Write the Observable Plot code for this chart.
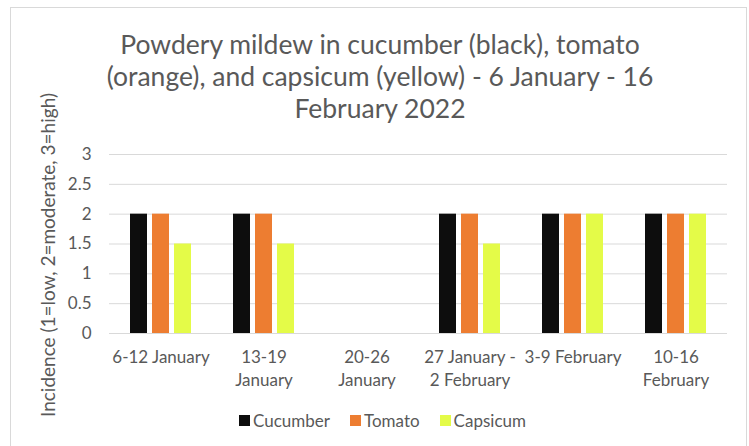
<!DOCTYPE html>
<html><head><meta charset="utf-8">
<script src="https://cdn.jsdelivr.net/npm/d3@7"></script>
<script src="https://cdn.jsdelivr.net/npm/@observablehq/plot@0.6"></script>
<style>
body{margin:0;background:#fff;}
#chart{position:relative;width:749px;height:446px;overflow:hidden;font-family:Lato,sans-serif;color:#595959;background:#fff;}
#frame{position:absolute;left:10px;top:7px;width:737px;height:470px;border:1px solid #d9d9d9;box-sizing:border-box;}
#title{position:absolute;left:80px;top:28px;width:600px;text-align:center;font-size:26.5px;line-height:32px;}
#ylabel{position:absolute;left:47px;top:255px;transform:translate(-50%,-50%) rotate(-90deg);white-space:nowrap;font-size:19px;}
#plot{position:absolute;left:0;top:140px;}
#legend{position:absolute;top:410px;left:0;width:765px;display:flex;justify-content:center;gap:20px;font-size:17px;}
#legend .item{display:flex;align-items:center;gap:3px;}
#legend .sw{width:11px;height:11px;display:inline-block;}
</style>
</head><body>
<div id="chart">
  <div id="frame"></div>
  <div id="title"></div>
  <div id="ylabel"></div>
  <div id="plot"></div>
  <div id="legend"></div>
</div>
<script>
const titleLines = ["Powdery mildew in cucumber (black), tomato", "(orange), and capsicum (yellow) - 6 January - 16", "February 2022"];
const yLabel = "Incidence (1=low, 2=moderate, 3=high)";
const weeks = ["6-12 January", "13-19 January", "20-26 January", "27 January - 2 February", "3-9 February", "10-16 February"];
const weekLabels = ["6-12 January", "13-19\nJanuary", "20-26\nJanuary", "27 January -\n2 February", "3-9 February", "10-16\nFebruary"];
const crops = ["Cucumber", "Tomato", "Capsicum"];
const cucumber = [2, 2, 0, 2, 2, 2];
const tomato = [2, 2, 0, 2, 2, 2];
const capsicum = [1.5, 1.5, 0, 1.5, 2, 2];
const colors = ["#0d0d0d", "#ed7d31", "#e4fb48"];
const yTicks = [0, 0.5, 1, 1.5, 2, 2.5, 3];

const series = [cucumber, tomato, capsicum];
const rows = weeks.flatMap((w, i) => crops.map((c, j) => ({week: w, crop: c, value: series[j][i]})));

document.getElementById("title").innerHTML = titleLines.join("<br>");
document.getElementById("ylabel").textContent = yLabel;

const chart = Plot.plot({
  width: 749,
  height: 265,
  marginTop: 14,
  marginBottom: 72,
  marginLeft: 108,
  marginRight: 22,
  style: {fontFamily: "Lato, sans-serif", fontSize: "17px", color: "#595959", background: "transparent"},
  fx: {domain: weeks, padding: 0, label: null},
  x: {domain: crops, paddingInner: 0.22, paddingOuter: 0.85, axis: null},
  y: {domain: [0, 3], label: null},
  color: {domain: crops, range: colors},
  marks: [
    Plot.gridY(yTicks, {stroke: "#d9d9d9", strokeWidth: 1, strokeOpacity: 1, facetAnchor: null}),
    Plot.barY(rows, {fx: "week", x: "crop", y: "value", fill: "crop"}),
    Plot.axisY(yTicks, {tickSize: 0, tickPadding: 18, fontSize: 17, label: null, fill: "#595959", tickFormat: d => String(d)}),
    Plot.axisFx({anchor: "bottom", tickSize: 0, tickPadding: 12, fontSize: 17, lineHeight: 1.41, label: null, fill: "#595959",
      tickFormat: d => weekLabels[weeks.indexOf(d)]})
  ]
});
document.getElementById("plot").appendChild(chart);

const legend = document.getElementById("legend");
crops.forEach((c, i) => {
  const item = document.createElement("div");
  item.className = "item";
  const sw = document.createElement("span");
  sw.className = "sw";
  sw.style.background = colors[i];
  const t = document.createElement("span");
  t.textContent = c;
  item.appendChild(sw);
  item.appendChild(t);
  legend.appendChild(item);
});
</script>
</body></html>
